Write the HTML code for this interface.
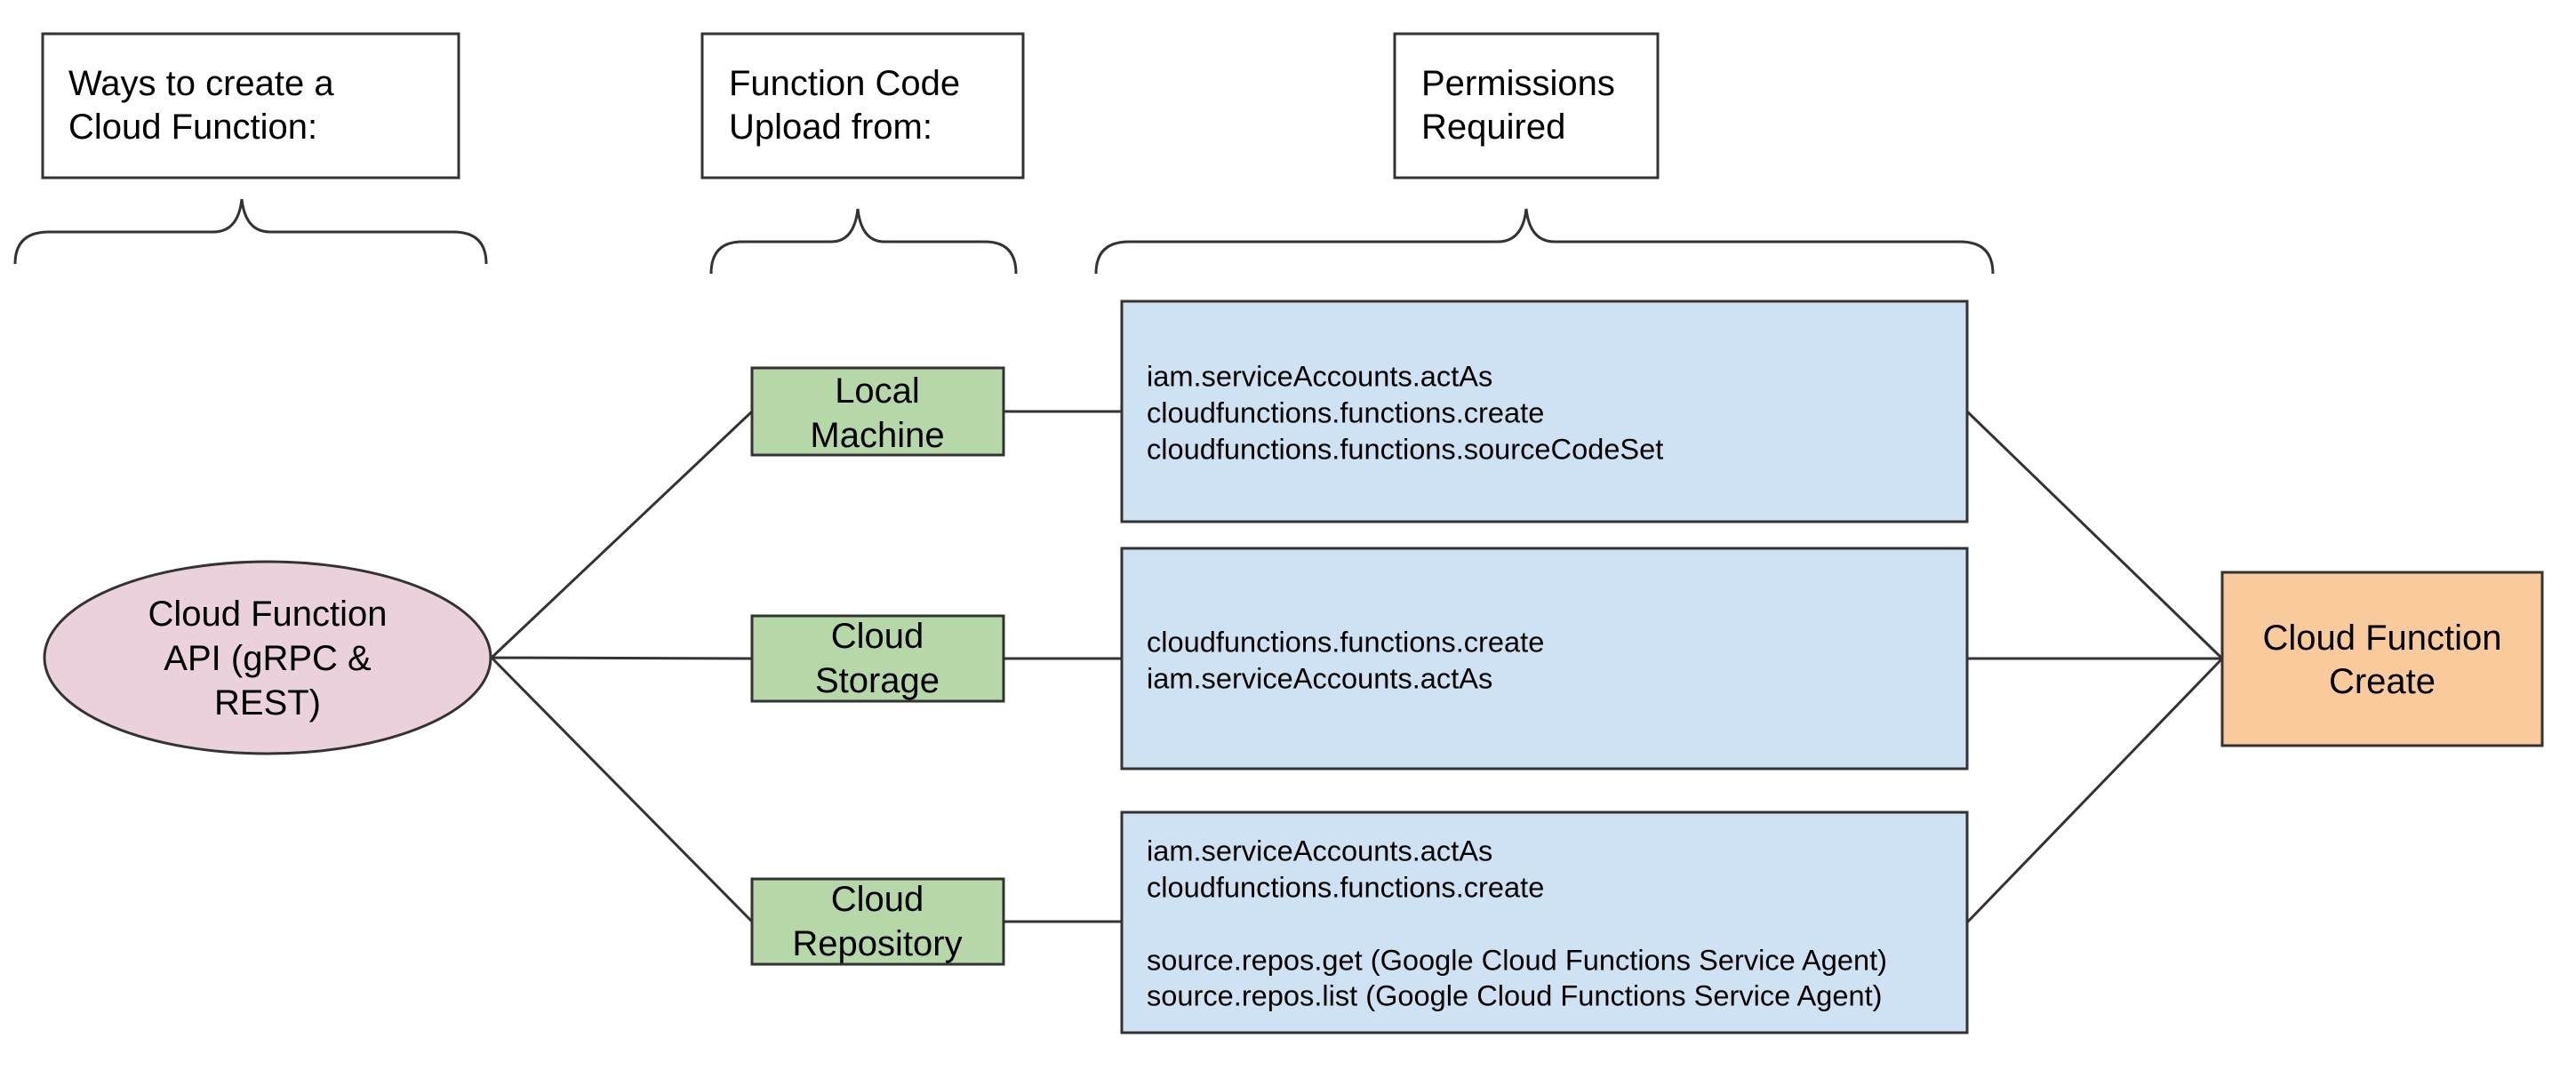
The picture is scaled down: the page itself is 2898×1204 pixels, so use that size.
<!DOCTYPE html>
<html><head><meta charset="utf-8"><style>
html,body{margin:0;padding:0;background:#fff;}
svg{display:block;}
text{font-family:"Liberation Sans",Arial,sans-serif;fill:#000;}
</style></head><body>
<svg width="2898" height="1204" viewBox="0 0 2898 1204" xmlns="http://www.w3.org/2000/svg">
<g stroke="#333" stroke-width="3" fill="none">
<rect x="48" y="38" width="468" height="162" fill="#fff"/>
<rect x="790" y="38" width="361" height="162" fill="#fff"/>
<rect x="1569" y="38" width="296" height="162" fill="#fff"/>
<path d="M17 297 Q17 261 55 261 L240 261 Q268 261 272 224 Q276 261 304 261 L510 261 Q547 261 547 297"/>
<path d="M800 308 Q800 272 835 272 L935 272 Q961 272 965 235 Q969 272 995 272 L1108 272 Q1143 272 1143 308"/>
<path d="M1233 308 Q1233 272 1270 272 L1685 272 Q1713 272 1717 235 Q1721 272 1749 272 L2205 272 Q2242 272 2242 308"/>
<path d="M553 740 L846 463 M553 740 L846 741 M553 740 L846 1037"/>
<path d="M1129 463 L1262 463 M1129 741 L1262 741 M1129 1037 L1262 1037"/>
<path d="M2213 463 L2500 741 M2213 741 L2500 741 M2213 1038 L2500 741"/>
<ellipse cx="301" cy="740" rx="251" ry="108" fill="#ead1dc"/>
<rect x="846" y="414" width="283" height="98" fill="#b6d7a8"/>
<rect x="846" y="693" width="283" height="96" fill="#b6d7a8"/>
<rect x="846" y="989" width="283" height="96" fill="#b6d7a8"/>
<rect x="1262" y="339" width="951" height="248" fill="#cfe2f3"/>
<rect x="1262" y="617" width="951" height="248" fill="#cfe2f3"/>
<rect x="1262" y="914" width="951" height="248" fill="#cfe2f3"/>
<rect x="2500" y="644" width="360" height="195" fill="#f9cb9c"/>
</g>
<g font-size="40" dominant-baseline="central">
<text x="77" y="94">Ways to create a</text>
<text x="77" y="143">Cloud Function:</text>
<text x="820" y="94">Function Code</text>
<text x="820" y="143">Upload from:</text>
<text x="1599" y="94">Permissions</text>
<text x="1599" y="143">Required</text>
</g>
<g font-size="40" text-anchor="middle" dominant-baseline="central">
<text x="301" y="691">Cloud Function</text>
<text x="301" y="741">API (gRPC &amp;</text>
<text x="301" y="791">REST)</text>
<text x="987" y="440">Local</text>
<text x="987" y="490">Machine</text>
<text x="987" y="716">Cloud</text>
<text x="987" y="766">Storage</text>
<text x="987" y="1012">Cloud</text>
<text x="987" y="1062">Repository</text>
<text x="2680" y="718">Cloud Function</text>
<text x="2680" y="767">Create</text>
</g>
<g font-size="32.6" dominant-baseline="central">
<text x="1290" y="423">iam.serviceAccounts.actAs</text>
<text x="1290" y="464">cloudfunctions.functions.create</text>
<text x="1290" y="505">cloudfunctions.functions.sourceCodeSet</text>
<text x="1290" y="722">cloudfunctions.functions.create</text>
<text x="1290" y="763">iam.serviceAccounts.actAs</text>
<text x="1290" y="957">iam.serviceAccounts.actAs</text>
<text x="1290" y="998">cloudfunctions.functions.create</text>
<text x="1290" y="1080">source.repos.get (Google Cloud Functions Service Agent)</text>
<text x="1290" y="1120">source.repos.list (Google Cloud Functions Service Agent)</text>
</g>
</svg>
</body></html>
